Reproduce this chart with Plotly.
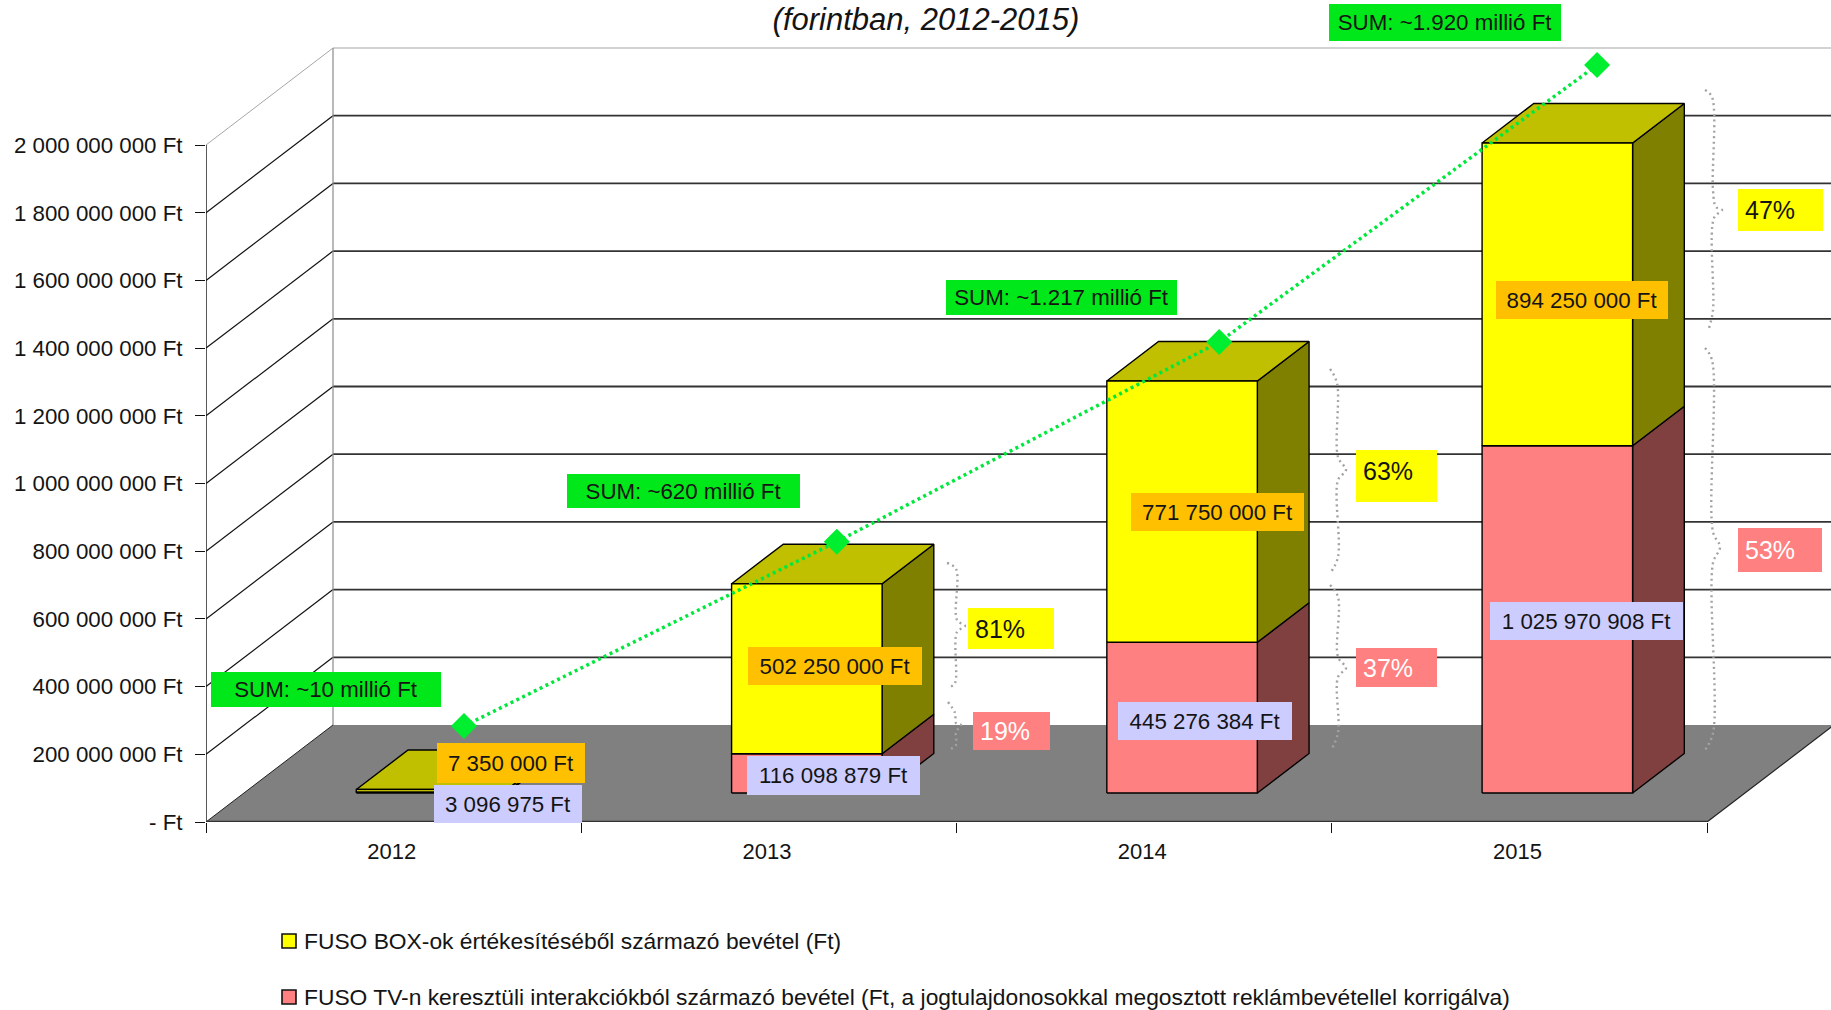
import plotly.graph_objects as go

# ---------- data ----------
years = ["2012", "2013", "2014", "2015"]
tv_revenue = [3096975, 116098879, 445276384, 1025970908]
box_revenue = [7350000, 502250000, 771750000, 894250000]
y_ticks = [0, 200000000, 400000000, 600000000, 800000000, 1000000000,
           1200000000, 1400000000, 1600000000, 1800000000, 2000000000]
y_tick_labels = ["- Ft", "200 000 000 Ft", "400 000 000 Ft", "600 000 000 Ft", "800 000 000 Ft",
                 "1 000 000 000 Ft", "1 200 000 000 Ft", "1 400 000 000 Ft", "1 600 000 000 Ft",
                 "1 800 000 000 Ft", "2 000 000 000 Ft"]
# overlaid SUM line, read against the front axis
sum_line_x = [0.6875, 1.681, 2.700, 3.707]
sum_line_y = [283600000, 828000000, 1418000000, 2236000000]
sum_labels = ["SUM: ~10 millió Ft", "SUM: ~620 millió Ft", "SUM: ~1.217 millió Ft", "SUM: ~1.920 millió Ft"]
box_labels = ["7 350 000 Ft", "502 250 000 Ft", "771 750 000 Ft", "894 250 000 Ft"]
tv_labels = ["3 096 975 Ft", "116 098 879 Ft", "445 276 384 Ft", "1 025 970 908 Ft"]
box_share = ["81%", "63%", "47%"]
tv_share = ["19%", "37%", "53%"]
legend_names = ["FUSO BOX-ok értékesítéséből származó bevétel (Ft)",
                "FUSO TV-n keresztüli interakciókból származó bevétel (Ft, a jogtulajdonosokkal megosztott reklámbevétellel korrigálva)"]

# ---------- page geometry (pixels) ----------
W, H = 1831, 1010
AX_L, AX_B, CAT_W, PX_2E9 = 206, 822, 375.25, 677
DEPTH_X, DEPTH_Y = 127, 97
FONT = "Liberation Sans"
INK = "#141414"

def X(px): return (px - AX_L) / CAT_W
def Y(py): return (AX_B - py) / PX_2E9 * 2e9

def P(xcat, value, depth):
    """Project (category position, value, depth 0..1) on the flat plot axes."""
    return xcat + depth * DEPTH_X / CAT_W, value + depth * DEPTH_Y / PX_2E9 * 2e9

fig = go.Figure()

def poly(points, fill, name, line="#000000", lw=1.4):
    xs, ys = zip(*(points + points[:1]))
    fig.add_trace(go.Scatter(x=xs, y=ys, mode="lines", fill="toself", fillcolor=fill,
                             line=dict(color=line, width=lw), name=name,
                             hoverinfo="skip", showlegend=False))

def seg(points, color, lw, name="grid"):
    xs, ys = zip(*points)
    fig.add_trace(go.Scatter(x=xs, y=ys, mode="lines", line=dict(color=color, width=lw),
                             name=name, hoverinfo="skip", showlegend=False))

N = len(years)
# floor
poly([P(0, 0, 0), P(N, 0, 0), P(N, 0, 1), P(0, 0, 1)], "#808080", "floor", line="#808080", lw=0)
# back wall and side wall grid
RIGHT = N + 1
for v in y_ticks[1:]:
    top = v == y_ticks[-1]
    seg([P(0, v, 0), P(0, v, 1)], "#a6a6a6" if top else "#111111", 1 if top else 1.2)
    seg([P(0, v, 1), P(RIGHT, v, 1)], "#a6a6a6" if top else "#333333", 1.2 if top else 1.8)
seg([P(0, 0, 1), P(0, y_ticks[-1], 1)], "#8a8a8a", 1.2)
seg([P(0, 0, 0), P(0, 0, 1)], "#222222", 1)
seg([P(N, 0, 0), P(N, 0, 1)], "#222222", 1.2)
seg([P(0, 0, 0), P(0, y_ticks[-1], 0)], "#111111", 1.4, "y axis")
seg([P(0, 0, 0), P(N, 0, 0)], "#333333", 2.4, "x axis")

# 3-D stacked bars
D0, D1 = 29 / DEPTH_Y, 68.5 / DEPTH_Y
BAR = 150.5 / CAT_W

def block(i, lo, hi, front, side, top, name):
    c = i + 0.5
    l, r = c - BAR / 2, c + BAR / 2
    poly([P(r, lo, D0), P(r, lo, D1), P(r, hi, D1), P(r, hi, D0)], side, name + " side")
    if top:
        poly([P(l, hi, D0), P(r, hi, D0), P(r, hi, D1), P(l, hi, D1)], top, name + " top")
    poly([P(l, lo, D0), P(r, lo, D0), P(r, hi, D0), P(l, hi, D0)], front, name)

for i in range(N):
    t, b = tv_revenue[i], box_revenue[i]
    block(i, 0, t, "#FF8080", "#804040", None, "FUSO TV " + years[i])
    block(i, t, t + b, "#FFFF00", "#808000", "#C0C000", "FUSO BOX " + years[i])

# SUM line
fig.add_trace(go.Scatter(x=sum_line_x, y=sum_line_y, mode="lines+markers", name="SUM",
                         line=dict(color="#00E83C", width=3.5, dash="3px,3.5px"),
                         marker=dict(symbol="diamond", size=20, color="#00EE30"),
                         hoverinfo="skip", showlegend=False))

# dotted braces (page pixels)
braces = [
    [(947,563),(956,569),(957,620),(965,626),(957,632),(955,683),(950,687)],
    [(948,702),(955,713),(956,723),(961,725),(956,732),(956,745),(948,750)],
    [(1330,369),(1337,383),(1338,457),(1346,470),(1338,480),(1338,557),(1331,572)],
    [(1330,585),(1338,597),(1338,657),(1346,668),(1338,677),(1338,733),(1331,750)],
    [(1705,90),(1712,97),(1713,190),(1716,207),(1722,210),(1714,218),(1713,310),(1709,328)],
    [(1705,348),(1712,360),(1713,532),(1720,547),(1713,563),(1713,733),(1705,750)],
]
for b in braces:
    fig.add_trace(go.Scatter(x=[X(p[0]) for p in b], y=[Y(p[1]) for p in b], mode="lines",
                             line=dict(color="#a3a3a3", width=2.4, dash="2px,3.5px", shape="spline"),
                             name="brace", hoverinfo="skip", showlegend=False))

annotations = []

def label(text, x0, x1, y0, y1, bg, color=INK, size=22.3, align="center", valign="middle", pad=0):
    annotations.append(dict(
        text=text, x=X((x0 + x1) / 2), y=Y((y0 + y1) / 2), xref="x", yref="y",
        xanchor="center", yanchor="middle", showarrow=False,
        width=x1 - x0 - 2 * pad, height=y1 - y0 - 2 * pad, borderpad=pad, borderwidth=0,
        bgcolor=bg, align=align, valign=valign,
        font=dict(family=FONT, size=size, color=color)))

GREEN, ORANGE, LILAC = "#00E81A", "#FFC000", "#CCCCFF"
for t, b in zip(sum_labels, [(211,441,672,707), (567,800,474,508), (946,1177,280,315), (1329,1561,4,41)]):
    label(t, *b, GREEN)
for t, b in zip(box_labels, [(437,585,743,783), (748,922,647,685), (1131,1304,493,531), (1496,1668,281,319)]):
    label(t, *b, ORANGE)
for t, b in zip(tv_labels, [(434,582,785,823), (747,920,756,795), (1118,1292,702,740), (1490,1683,602,640)]):
    label(t, *b, LILAC)
for t, b, v in zip(box_share, [(968,1054,608,649), (1356,1437,450,502), (1738,1823,189,231)], ["middle", "top", "middle"]):
    label(t, *b, "#FFFF00", size=25, align="left", valign=v, pad=7)
for t, b in zip(tv_share, [(973,1050,712,750), (1356,1437,648,687), (1738,1822,528,572)]):
    label(t, *b, "#FF8080", color="#FFFFFF", size=25, align="left", pad=7)

# legend rows: keys and texts sit below the axes, so they are placed on the page
PLOT_W, PLOT_H = W - AX_L, AX_B
shapes = []
for py, nm, col in [(941, legend_names[0], "#FFFF00"), (997, legend_names[1], "#FF8080")]:
    annotations.append(dict(text=nm, x=(301.5 - AX_L) / PLOT_W, y=(AX_B - py) / PLOT_H,
                            xref="paper", yref="paper", xanchor="left", yanchor="middle",
                            showarrow=False, font=dict(family=FONT, size=22.8, color=INK)))
    shapes.append(dict(type="rect", xref="paper", yref="paper",
                       x0=(282 - AX_L) / PLOT_W, x1=(296 - AX_L) / PLOT_W,
                       y0=(AX_B - py - 7) / PLOT_H, y1=(AX_B - py + 7) / PLOT_H,
                       fillcolor=col, line=dict(color="#111111", width=1.6)))

fig.update_layout(
    width=W, height=H, autosize=False,
    margin=dict(l=AX_L, r=0, t=0, b=H - AX_B, pad=0),
    paper_bgcolor="#FFFFFF", plot_bgcolor="#FFFFFF",
    showlegend=False, annotations=annotations, shapes=shapes, hovermode=False,
    title=dict(text="<i>(forintban, 2012-2015)</i>", x=926 / W, xanchor="center", xref="container",
               y=1 - 19 / H, yanchor="middle", yref="container",
               font=dict(family=FONT, size=31, color=INK)),
    xaxis=dict(range=[0, (W - AX_L) / CAT_W], showgrid=False, zeroline=False, showline=False,
               tickmode="array", tickvals=[i + 0.495 for i in range(N)], ticktext=years, ticks="",
               ticklabelstandoff=14, tickfont=dict(family=FONT, size=22, color=INK),
               minor=dict(tickmode="array", tickvals=list(range(N + 1)), ticks="outside",
                          ticklen=10, tickwidth=1.4, tickcolor="#111111", showgrid=False)),
    yaxis=dict(range=[0, AX_B / PX_2E9 * 2e9], showgrid=False, zeroline=False, showline=False,
               tickmode="array", tickvals=y_ticks, ticktext=y_tick_labels, ticks="outside",
               ticklen=10, tickwidth=1.4, tickcolor="#111111", ticklabelstandoff=8,
               tickfont=dict(family=FONT, size=22.3, color=INK)),
)

fig.write_html("out.html", config={"displayModeBar": False},
               post_script="document.body.style.margin='0';document.body.style.overflow='hidden';")
